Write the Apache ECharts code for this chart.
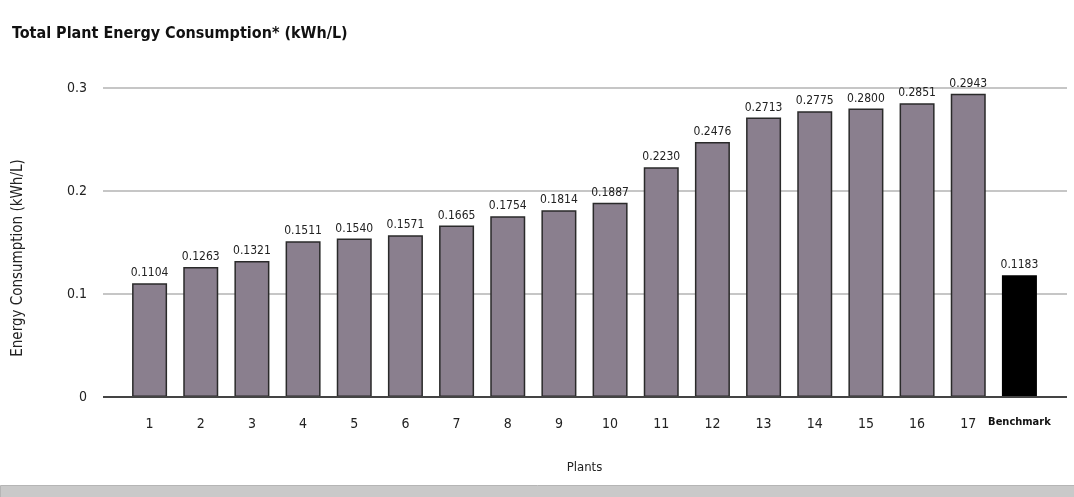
<!DOCTYPE html>
<html><head><meta charset="utf-8">
<script src="https://cdn.jsdelivr.net/npm/echarts@6/dist/echarts.min.js"></script>
<style>html,body{margin:0;padding:0;background:#fff}#c{width:1074px;height:497px}</style>
</head><body><div id="c"></div>
<script>
const categories = ['1','2','3','4','5','6','7','8','9','10','11','12','13','14','15','16','17','Benchmark'];
const plantValues = [0.1104,0.1263,0.1321,0.1511,0.1540,0.1571,0.1665,0.1754,0.1814,0.1887,0.2230,0.2476,0.2713,0.2775,0.2800,0.2851,0.2943];
const benchmarkValue = 0.1183;
const yTicks = [0, 0.1, 0.2, 0.3];

const FONT = '"DejaVu Sans Condensed","Liberation Sans Narrow",sans-serif';
const data = plantValues.map(v => ({value: v}));
data.push({value: benchmarkValue, itemStyle: {color: '#000', borderColor: '#000'}});

const chart = echarts.init(document.getElementById('c'), null, {renderer: 'canvas'});
chart.setOption({
  animation: false,
  backgroundColor: '#fff',
  title: {
    text: 'Total Plant Energy Consumption* (kWh/L)',
    left: 7, top: 21,
    textStyle: {fontFamily: FONT, fontSize: 16, fontWeight: 'bold', color: '#111'}
  },
  grid: [
    {left: 103, right: 7, top: 88, bottom: 100, containLabel: false},
    {left: 124, right: 29, top: 88, bottom: 100, containLabel: false}
  ],
  xAxis: [
    {gridIndex: 0, type: 'value', min: 0, max: 1, show: true,
      axisLine: {show: false}, axisTick: {show: false}, axisLabel: {show: false}, splitLine: {show: false}},
    {gridIndex: 1, type: 'category', data: categories,
      axisLine: {show: false}, axisTick: {show: false},
      axisLabel: {fontFamily: FONT, fontSize: 14, color: '#222', margin: 20, interval: 0,
        formatter: v => v === 'Benchmark' ? '{b|' + v + '}' : v,
        rich: {b: {fontFamily: FONT, fontSize: 11, color: '#111', fontWeight: 'bold'}}},
      name: 'Plants', nameLocation: 'middle', nameGap: 64,
      nameTextStyle: {fontFamily: FONT, fontSize: 13, color: '#222'}}
  ],
  yAxis: [
    {gridIndex: 0, type: 'value', min: 0, max: 0.3, interval: 0.1,
      axisLine: {show: false}, axisTick: {show: false},
      axisLabel: {fontFamily: FONT, fontSize: 14, color: '#222', margin: 16,
        formatter: v => yTicks.includes(Math.round(v*10)/10) ? (v === 0 ? '0' : v.toFixed(1)) : ''},
      splitLine: {show: true, lineStyle: {color: '#c6c6c6', width: 2}}},
    {gridIndex: 1, type: 'value', min: 0, max: 0.3, interval: 0.1, show: false,
      splitLine: {show: false}}
  ],
  series: [
    {type: 'bar', xAxisIndex: 1, yAxisIndex: 1, data: data, barWidth: 35,
      itemStyle: {color: '#8a7f8e', borderColor: '#2a2a2a', borderWidth: 1.5},
      label: {show: true, position: 'top', distance: 4, fontFamily: FONT, fontSize: 12, color: '#222',
        formatter: p => p.value.toFixed(4)},
      z: 3},
    {type: 'line', xAxisIndex: 0, yAxisIndex: 0, data: [[0,0],[1,0]], symbol: 'none',
      lineStyle: {color: '#444', width: 2}, z: 4, silent: true}
  ],
  graphic: [
    {type: 'text', x: 18, y: 258, rotation: Math.PI / 2,
      style: {text: 'Energy Consumption (kWh/L)', fontFamily: FONT, fontSize: 15, fill: '#222',
        align: 'center', verticalAlign: 'middle'}, silent: true},
    {type: 'rect', left: 0, top: 485, shape: {width: 1074, height: 12},
      style: {fill: '#c9c9c9', stroke: '#b5b5b5'}, silent: true}
  ]
});
</script></body></html>
